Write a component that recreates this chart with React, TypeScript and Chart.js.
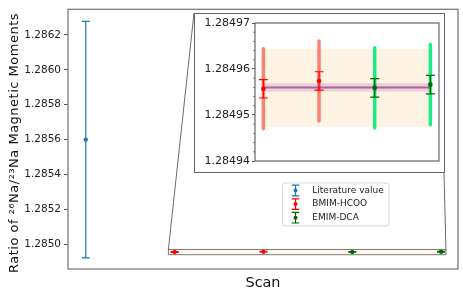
import React, { useEffect, useRef } from "react";
import { Chart, registerables } from "chart.js";
Chart.register(...registerables);

const FONT = "'DejaVu Sans', Verdana, sans-serif";

// ---- data ----
const LIT_LABEL = "Literature value";
const LIT_X = [0];
const LIT_Y = [1.2856];
const LIT_ERR = [0.000678];

const BMIM_LABEL = "BMIM-HCOO";
const BMIM_X = [1, 2];
const BMIM_Y = [1.2849557, 1.2849574];
const BMIM_STAT = [0.000002, 0.000002];
const BMIM_SYS = [0.0000087, 0.0000087];

const EMIM_LABEL = "EMIM-DCA";
const EMIM_X = [3, 4];
const EMIM_Y = [1.2849559, 1.2849566];
const EMIM_STAT = [0.000002, 0.000002];
const EMIM_SYS = [0.0000087, 0.0000087];

const MEAN_VALUE = 1.284956;
const MEAN_ERR = 0.0000009;
const SPREAD = [1.2849474, 1.2849644];
const MEAN_X = [1, 4];

const MAIN_Y_TICKS = [1.285, 1.2852, 1.2854, 1.2856, 1.2858, 1.286, 1.2862];
const MAIN_Y_RANGE = [1.284858, 1.286347];
const MAIN_X_RANGE = [-0.2, 4.19];
const Y_TITLE = "Ratio of ²⁶Na/²³Na Magnetic Moments";
const X_TITLE = "Scan";

const INSET_Y_TICKS = [1.28494, 1.28495, 1.28496, 1.28497];
const INSET_Y_RANGE = [1.28494, 1.28497];
const INSET_X_RANGE = [0.85, 4.155];
const INSET_BOX_X = [0.93, 4.054];

// ---- layout ----
const W = 463;
const H = 295;
const INSET_LEFT = 194;
const INSET_TOP = 13;
const INSET_W = 251;
const INSET_H = 160;

const pts = (xs: number[], ys: number[]) => xs.map((x, i) => ({ x, y: ys[i] }));

function makeDatasets(includeLit: boolean, r: number) {
  const ds: any[] = [];
  if (includeLit) {
    ds.push({
      label: LIT_LABEL,
      data: pts(LIT_X, LIT_Y),
      statErr: LIT_ERR,
      color: "#1f77b4",
      pointRadius: 2.2,
      pointBackgroundColor: "#1f77b4",
      pointBorderWidth: 0,
    });
  }
  ds.push({
    label: BMIM_LABEL,
    data: pts(BMIM_X, BMIM_Y),
    statErr: BMIM_STAT,
    sysErr: BMIM_SYS,
    color: "#ff0000",
    sysColor: "rgba(250,110,95,0.85)",
    pointRadius: r,
    pointBackgroundColor: "#ff0000",
    pointBorderWidth: 0,
  });
  ds.push({
    label: EMIM_LABEL,
    data: pts(EMIM_X, EMIM_Y),
    statErr: EMIM_STAT,
    sysErr: EMIM_SYS,
    color: "#006400",
    sysColor: "rgba(0,235,125,0.9)",
    pointRadius: r,
    pointBackgroundColor: "#006400",
    pointBorderWidth: 0,
  });
  return ds;
}

function drawBars(chart: any, capHalf: number, sysWidth: number, drawSys: boolean, drawStat: boolean) {
  const { ctx } = chart;
  const xs = chart.scales.x;
  const ys = chart.scales.y;
  chart.data.datasets.forEach((ds: any) => {
    ds.data.forEach((p: any, i: number) => {
      const px = xs.getPixelForValue(p.x);
      if (drawSys && ds.sysErr) {
        ctx.save();
        ctx.strokeStyle = ds.sysColor;
        ctx.lineWidth = sysWidth;
        ctx.lineCap = "round";
        ctx.beginPath();
        ctx.moveTo(px, ys.getPixelForValue(p.y + ds.sysErr[i]));
        ctx.lineTo(px, ys.getPixelForValue(p.y - ds.sysErr[i]));
        ctx.stroke();
        ctx.restore();
      }
      if (drawStat && ds.statErr) {
        const yt = ys.getPixelForValue(p.y + ds.statErr[i]);
        const yb = ys.getPixelForValue(p.y - ds.statErr[i]);
        ctx.save();
        ctx.strokeStyle = ds.color;
        ctx.lineWidth = 1.2;
        ctx.beginPath();
        ctx.moveTo(px, yt);
        ctx.lineTo(px, yb);
        ctx.moveTo(px - capHalf, yt);
        ctx.lineTo(px + capHalf, yt);
        ctx.moveTo(px - capHalf, yb);
        ctx.lineTo(px + capHalf, yb);
        ctx.stroke();
        ctx.restore();
      }
    });
  });
}

const mainPlugin = {
  id: "mainDecor",
  beforeDatasetsDraw(chart: any) {
    const { ctx } = chart;
    const xs = chart.scales.x;
    const ys = chart.scales.y;
    const bx0 = xs.getPixelForValue(INSET_BOX_X[0]);
    const bx1 = xs.getPixelForValue(INSET_BOX_X[1]);
    const sy0 = ys.getPixelForValue(SPREAD[1]);
    const sy1 = ys.getPixelForValue(SPREAD[0]);
    ctx.save();
    ctx.fillStyle = "rgba(255,228,196,0.45)";
    ctx.fillRect(bx0, sy0, bx1 - bx0, sy1 - sy0);
    ctx.restore();
    drawBars(chart, 4, 3, true, true);
  },
  afterDatasetsDraw(chart: any) {
    const { ctx, chartArea } = chart;
    const xs = chart.scales.x;
    const ys = chart.scales.y;
    const bx0 = xs.getPixelForValue(INSET_BOX_X[0]);
    const bx1 = xs.getPixelForValue(INSET_BOX_X[1]);
    const by0 = ys.getPixelForValue(INSET_Y_RANGE[1]);
    const by1 = ys.getPixelForValue(INSET_Y_RANGE[0]);
    ctx.save();
    ctx.strokeStyle = "#777";
    ctx.lineWidth = 1;
    ctx.strokeRect(bx0, by0, bx1 - bx0, by1 - by0);
    ctx.strokeStyle = "#444";
    ctx.lineWidth = 0.8;
    ctx.beginPath();
    ctx.moveTo(bx0, by0);
    ctx.lineTo(INSET_LEFT, INSET_TOP);
    ctx.moveTo(bx1, by0);
    ctx.lineTo(INSET_LEFT + INSET_W - 1, INSET_TOP + INSET_H);
    ctx.stroke();
    ctx.strokeStyle = "#7a7a7a";
    ctx.lineWidth = 1.3;
    ctx.strokeRect(chartArea.left, chartArea.top, chartArea.right - chartArea.left, chartArea.bottom - chartArea.top);
    // legend
    const lx = 282.5, ly = 183, lw = 106.5, lh = 43;
    ctx.fillStyle = "rgba(255,255,255,0.85)";
    ctx.strokeStyle = "#d6d6d6";
    ctx.lineWidth = 1;
    ctx.beginPath();
    ctx.roundRect(lx, ly, lw, lh, 3);
    ctx.fill();
    ctx.stroke();
    ctx.font = `9px ${FONT}`;
    ctx.textBaseline = "middle";
    ctx.textAlign = "left";
    chart.data.datasets.forEach((ds: any, i: number) => {
      const cy = 190.5 + i * 13.6;
      const cx = 295.5;
      ctx.strokeStyle = ds.color;
      ctx.lineWidth = 1.2;
      ctx.beginPath();
      ctx.moveTo(cx, cy - 5.3);
      ctx.lineTo(cx, cy + 5.3);
      ctx.moveTo(cx - 3.8, cy - 5.3);
      ctx.lineTo(cx + 3.8, cy - 5.3);
      ctx.moveTo(cx - 3.8, cy + 5.3);
      ctx.lineTo(cx + 3.8, cy + 5.3);
      ctx.stroke();
      ctx.fillStyle = ds.color;
      ctx.beginPath();
      ctx.arc(cx, cy, 2, 0, Math.PI * 2);
      ctx.fill();
      ctx.fillStyle = "#222";
      ctx.fillText(ds.label, 312.3, cy);
    });
    // y-axis title (rotated)
    ctx.translate(17.5, 273);
    ctx.rotate(-Math.PI / 2);
    ctx.font = `13px ${FONT}`;
    try {
      (ctx as any).letterSpacing = "0.5px";
    } catch (e) {}
    ctx.fillStyle = "#111";
    ctx.textAlign = "left";
    ctx.textBaseline = "alphabetic";
    ctx.fillText(Y_TITLE, 0, 0);
    ctx.restore();
  },
};

const insetPlugin = {
  id: "insetDecor",
  beforeDatasetsDraw(chart: any) {
    const { ctx } = chart;
    const xs = chart.scales.x;
    const ys = chart.scales.y;
    const x0 = xs.getPixelForValue(MEAN_X[0]);
    const x1 = xs.getPixelForValue(MEAN_X[1]);
    ctx.save();
    ctx.fillStyle = "rgba(255,228,196,0.45)";
    const sy0 = ys.getPixelForValue(SPREAD[1]);
    const sy1 = ys.getPixelForValue(SPREAD[0]);
    ctx.fillRect(x0, sy0, x1 - x0, sy1 - sy0);
    ctx.restore();
    drawBars(chart, 4.5, 3.5, true, false);
    ctx.save();
    const my0 = ys.getPixelForValue(MEAN_VALUE + MEAN_ERR);
    const my1 = ys.getPixelForValue(MEAN_VALUE - MEAN_ERR);
    ctx.fillStyle = "rgba(128,0,128,0.15)";
    ctx.fillRect(x0, my0, x1 - x0, my1 - my0);
    ctx.strokeStyle = "rgba(150,60,150,0.75)";
    ctx.lineWidth = 2;
    ctx.beginPath();
    const my = ys.getPixelForValue(MEAN_VALUE);
    ctx.moveTo(x0, my);
    ctx.lineTo(x1, my);
    ctx.stroke();
    ctx.restore();
    drawBars(chart, 4.5, 3.5, false, true);
  },
  afterDraw(chart: any) {
    const { ctx, chartArea } = chart;
    const ys = chart.scales.y;
    ctx.save();
    ctx.strokeStyle = "#666";
    ctx.lineWidth = 1.2;
    ctx.strokeRect(chartArea.left, chartArea.top, chartArea.right - chartArea.left, chartArea.bottom - chartArea.top);
    ctx.strokeStyle = "#666";
    ctx.lineWidth = 0.8;
    ctx.beginPath();
    for (let k = 0; k < INSET_Y_TICKS.length - 1; k++) {
      const a = INSET_Y_TICKS[k];
      const b = INSET_Y_TICKS[k + 1];
      for (let j = 1; j < 5; j++) {
        const py = ys.getPixelForValue(a + ((b - a) * j) / 5);
        ctx.moveTo(chartArea.left - 2, py);
        ctx.lineTo(chartArea.left, py);
      }
    }
    ctx.stroke();
    ctx.restore();
  },
};

export default function App() {
  const mainRef = useRef<HTMLCanvasElement>(null);
  const insetRef = useRef<HTMLCanvasElement>(null);

  useEffect(() => {
    const main = new Chart(mainRef.current as HTMLCanvasElement, {
      type: "scatter",
      data: { datasets: makeDatasets(true, 2) },
      options: {
        responsive: false,
        animation: false,
        layout: { padding: { top: 6, right: 5, left: 0, bottom: 0 } },
        plugins: { legend: { display: false }, tooltip: { enabled: false } },
        scales: {
          x: {
            type: "linear",
            min: MAIN_X_RANGE[0],
            max: MAIN_X_RANGE[1],
            ticks: { display: false },
            grid: { display: false },
            border: { display: false },
            title: {
              display: true,
              text: X_TITLE,
              color: "#111",
              font: { family: FONT, size: 14.4 },
              padding: { top: 0, bottom: 3 },
            },
            afterFit: (s: any) => {
              s.height = 26;
            },
          },
          y: {
            type: "linear",
            min: MAIN_Y_RANGE[0],
            max: MAIN_Y_RANGE[1],
            afterBuildTicks: (s: any) => {
              s.ticks = MAIN_Y_TICKS.map((v) => ({ value: v }));
            },
            ticks: {
              callback: (v: any) => Number(v).toFixed(4),
              color: "#222",
              font: { family: FONT, size: 10.5 },
              padding: 3,
            },
            grid: { drawOnChartArea: false, drawTicks: true, tickLength: 4, color: "#555" },
            border: { display: false },
            title: { display: false },
            afterFit: (s: any) => {
              s.width = 68;
            },
          },
        },
      } as any,
      plugins: [mainPlugin],
    });

    const inset = new Chart(insetRef.current as HTMLCanvasElement, {
      type: "scatter",
      data: { datasets: makeDatasets(false, 2.3) },
      options: {
        responsive: false,
        animation: false,
        layout: { padding: { top: 9, right: 5, left: 0, bottom: 11 } },
        plugins: { legend: { display: false }, tooltip: { enabled: false } },
        scales: {
          x: {
            type: "linear",
            display: false,
            min: INSET_X_RANGE[0],
            max: INSET_X_RANGE[1],
          },
          y: {
            type: "linear",
            min: INSET_Y_RANGE[0],
            max: INSET_Y_RANGE[1],
            afterBuildTicks: (s: any) => {
              s.ticks = INSET_Y_TICKS.map((v) => ({ value: v }));
            },
            ticks: {
              callback: (v: any) => Number(v).toFixed(5),
              color: "#222",
              font: { family: FONT, size: 11 },
              padding: 2,
            },
            grid: { drawOnChartArea: false, drawTicks: true, tickLength: 3, color: "#555" },
            border: { display: false },
            afterFit: (s: any) => {
              s.width = 60;
            },
          },
        },
      } as any,
      plugins: [insetPlugin],
    });

    return () => {
      main.destroy();
      inset.destroy();
    };
  }, []);

  return (
    <div style={{ position: "fixed", left: 0, top: 0, width: W, height: H, background: "#fff" }}>
      <canvas ref={mainRef} width={W} height={H} style={{ position: "absolute", left: 0, top: 0, width: W, height: H }} />
      <div
        style={{
          position: "absolute",
          left: INSET_LEFT,
          top: INSET_TOP,
          width: INSET_W,
          height: INSET_H,
          boxSizing: "border-box",
          border: "1px solid #666",
          background: "#fff",
        }}
      >
        <canvas ref={insetRef} width={INSET_W - 2} height={INSET_H - 2} style={{ display: "block", width: INSET_W - 2, height: INSET_H - 2 }} />
      </div>
    </div>
  );
}
